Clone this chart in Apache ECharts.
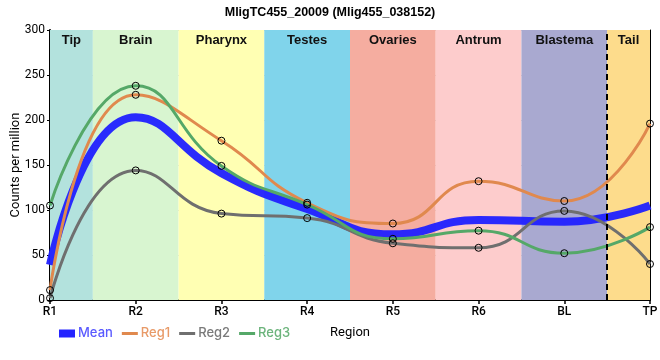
<!DOCTYPE html>
<html><head><meta charset="utf-8">
<script src="https://cdn.jsdelivr.net/npm/echarts@6/dist/echarts.min.js"></script>
<style>html,body{margin:0;padding:0;background:#fff}#c{width:660px;height:360px}</style>
</head><body><div id="c"></div>
<script>
const categories = ['R1','R2','R3','R4','R5','R6','BL','TP'];
const meanVals = [39, 203, 141, 101, 73, 89, 87, 105];
const reg1Vals = [11, 228, 177, 108, 85, 132, 110, 196];
const reg2Vals = [2, 144, 96, 91, 63, 58, 99, 40];
const reg3Vals = [105, 238, 149, 106, 68, 77, 52, 81];
const bandNames = ['Tip','Brain','Pharynx','Testes','Ovaries','Antrum','Blastema','Tail'];
const bandStart = [0, 0.5, 1.5, 2.5, 3.5, 4.5, 5.5, 6.5];
const bandEnd   = [0.5, 1.5, 2.5, 3.5, 4.5, 5.5, 6.5, 7];
const tailBoundary = 6.5;
const yTicks = {min: 0, max: 300, interval: 50};

const bandColors = ['#b3e2dd','#d8f5d0','#ffffb3','#80d4eb','#f5ada0','#fdcccc','#a9a9d0','#fddc8c'];
const font = 'Liberation Sans, Arial, sans-serif';

const chart = echarts.init(document.getElementById('c'), null, {renderer: 'canvas'});

function regSeries(name, data, color) {
  return {
    name, type: 'line', data, smooth: 0.5, z: 3,
    color: color,
    lineStyle: {color, width: 3},
    symbol: 'circle', symbolSize: 7,
    itemStyle: {color: 'rgba(0,0,0,0)', borderColor: '#000', borderWidth: 1},
    emphasis: {disabled: true}
  };
}

chart.setOption({
  animation: false,
  title: {
    text: 'MligTC455_20009 (Mlig455_038152)', left: 'center', top: 1,
    textStyle: {fontFamily: font, fontWeight: 'bold', fontSize: 12.5, color: '#000'}
  },
  grid: {left: 50, right: 10, top: 30, bottom: 60, containLabel: false, outerBoundsMode: 'none'},
  legend: {
    left: 54, top: 322, itemWidth: 16, itemHeight: 8, itemGap: 9,
    textStyle: {fontFamily: 'Inter, Roboto, sans-serif', fontSize: 13, fontWeight: 500, color: 'inherit', padding: [0, 0, 0, -2]},
    data: [
      {name: 'Mean', icon: 'rect', itemStyle: {color: '#2424ff'}, textStyle: {color: '#5a5aff'}},
      {name: 'Reg1', icon: 'path://M0,0h16v3h-16z', itemStyle: {color: '#e0894e', borderWidth: 0}, textStyle: {color: '#e89a68'}},
      {name: 'Reg2', icon: 'path://M0,0h16v3h-16z', itemStyle: {color: '#6f6f6f', borderWidth: 0}, textStyle: {color: '#7a7a7a'}},
      {name: 'Reg3', icon: 'path://M0,0h16v3h-16z', itemStyle: {color: '#55a868', borderWidth: 0}, textStyle: {color: '#6cb47c'}}
    ]
  },
  xAxis: [{
    type: 'category', data: categories, boundaryGap: false,
    name: 'Region', nameLocation: 'middle', nameGap: 26, nameMoveOverlap: false,
    nameTextStyle: {fontFamily: 'Roboto, sans-serif', fontSize: 13, color: '#000'},
    axisLine: {lineStyle: {color: '#000', width: 2}},
    axisTick: {show: true, length: 4, lineStyle: {color: '#000', width: 1.5}},
    axisLabel: {fontFamily: 'Roboto, sans-serif', fontSize: 12, fontWeight: 500, color: '#000', margin: 6},
    splitLine: {show: true, lineStyle: {color: '#c8c8c8', width: 1}}
  }, {
    type: 'value', min: 0, max: 7, position: 'top',
    axisLine: {show: true, lineStyle: {color: '#000', width: 1}},
    axisTick: {show: false}, axisLabel: {show: false}, splitLine: {show: false}
  }],
  yAxis: [{
    type: 'value', min: yTicks.min, max: yTicks.max, interval: yTicks.interval,
    name: 'Counts per million', nameLocation: 'middle', nameGap: 28, nameMoveOverlap: false,
    nameTextStyle: {fontFamily: 'Roboto, sans-serif', fontSize: 13, color: '#000'},
    axisLine: {show: true, lineStyle: {color: '#000', width: 2}},
    axisTick: {show: true, length: 3, lineStyle: {color: '#000'}},
    axisLabel: {fontFamily: 'Roboto, sans-serif', fontSize: 12, color: '#000', margin: 5},
    splitLine: {show: true, lineStyle: {color: '#c8c8c8', width: 1}}
  }, {
    type: 'value', min: yTicks.min, max: yTicks.max, position: 'right',
    axisLine: {show: true, lineStyle: {color: '#000', width: 1}},
    axisTick: {show: false}, axisLabel: {show: false}, splitLine: {show: false}
  }],
  series: [
    {
      name: 'bands', type: 'line', xAxisIndex: 1, yAxisIndex: 0, data: [], z: -1, silent: true,
      markArea: {
        silent: true,
        label: {show: true, position: 'insideTop', distance: 4,
          fontFamily: font, fontWeight: 'bold', fontSize: 13, color: '#111'},
        data: bandNames.map((n, i) => [
          {name: n, xAxis: bandStart[i], itemStyle: {color: bandColors[i], opacity: 1}},
          {xAxis: bandEnd[i]}
        ])
      },
      markLine: {
        silent: true, symbol: ['none', 'none'], label: {show: false},
        lineStyle: {color: '#000', width: 2, type: [6, 4]},
        data: [{xAxis: tailBoundary}]
      }
    },
    {
      name: 'Mean', type: 'line', data: meanVals, smooth: 0.5, z: 2,
      color: '#2424ff', showSymbol: false, symbol: 'none',
      lineStyle: {color: '#2020ff', width: 8, opacity: 0.95},
      emphasis: {disabled: true}
    },
    regSeries('Reg1', reg1Vals, '#e0894e'),
    regSeries('Reg2', reg2Vals, '#6f6f6f'),
    regSeries('Reg3', reg3Vals, '#55a868')
  ]
});
</script></body></html>
